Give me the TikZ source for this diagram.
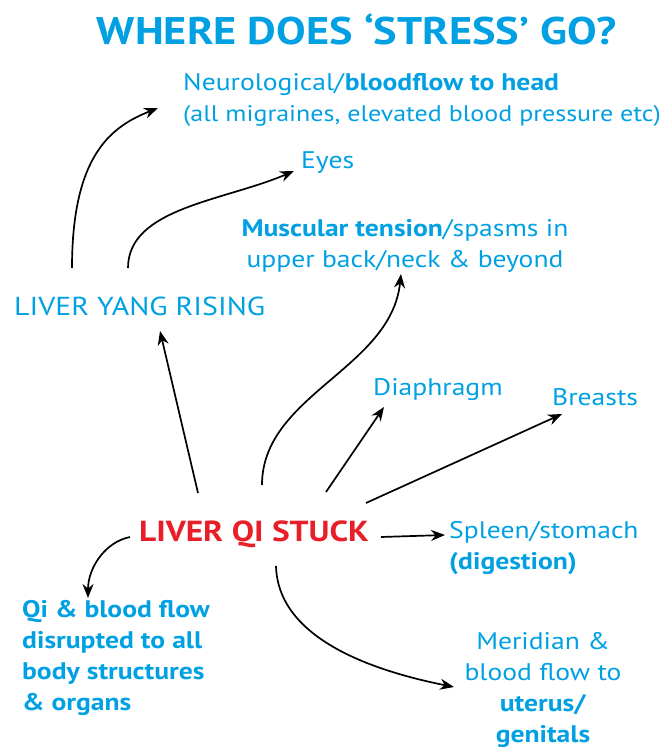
\documentclass[tikz,border=0pt]{standalone}
\usepackage{fontspec}
\setmainfont{PT Sans}[FakeStretch=1.15]
\usetikzlibrary{arrows.meta}
\definecolor{stressblue}{RGB}{0,160,227}
\definecolor{stuckred}{RGB}{232,30,40}
\begin{document}
\begin{tikzpicture}[
    x=1pt, y=-1pt,
    >={Stealth[length=14pt,width=11pt]},
    txt/.style={text=stressblue, inner sep=0pt, font=\fontsize{24}{31}\selectfont},
    txtB/.style={txt, font=\fontsize{24}{31}\selectfont\bfseries},
    hdr/.style={text=stressblue, inner sep=0pt, font=\fontsize{38.5}{44}\selectfont\bfseries},
    hot/.style={text=stuckred, inner sep=0pt, font=\fontsize{29}{32}\selectfont\bfseries},
    arr/.style={->, line width=1.7pt},
  ]
  \useasboundingbox (0,0) rectangle (668,749);

  %% ===== TITLE =====
  \node[hdr] (title) at (357,29) {WHERE DOES ‘STRESS’ GO?};

  %% ===== TARGETS (upper part) =====
  \node[txt, anchor=west, align=left] (neuro) at (183,100)
    {Neurological/\textbf{bloodflow to head}\\{\fontsize{22.6}{31}\selectfont(all migraines, elevated blood pressure etc)}};
  \node[txt, anchor=west] (eyes)   at (301,163) {Eyes};
  \node[txt, align=center] (muscle) at (405,246)
    {\textbf{Muscular tension}/spasms in\\upper back/neck \& beyond};
  \node[txt, anchor=west, font=\fontsize{26}{31}\selectfont] (yang) at (14,306) {LIVER YANG RISING};
  \node[txt, anchor=west] (diaph)   at (373,390) {Diaphragm};
  \node[txt, anchor=west] (breasts) at (552,397) {Breasts};

  %% ===== CENTRE =====
  \node[hot] (stuck) at (254,534) {LIVER QI STUCK};

  %% ===== TARGETS (lower part) =====
  \node[txt, anchor=west, align=left] (spleen) at (449,548)
    {Spleen/stomach\\\textbf{(digestion)}};
  \node[txtB, anchor=west, align=left] (qiflow) at (22,658)
    {Qi \& blood flow\\disrupted to all\\body structures\\\& organs};
  \node[txt, align=center] (meridian) at (543,690)
    {Meridian \&\\blood flow to\\\textbf{uterus/}\\\textbf{genitals}};

  %% ===== ARROWS =====
  %% from liver yang rising
  \draw[arr] ([xshift=58pt,yshift=38pt]yang.west)
    .. controls +(0,-115) and +(-45,18) .. ([xshift=-25pt,yshift=-8pt]neuro.west);
  \draw[arr] ([xshift=114pt,yshift=38pt]yang.west)
    .. controls +(0,-60) and +(-70,30) .. ([xshift=-7pt,yshift=-8pt]eyes.west);

  %% from liver qi stuck
  \draw[arr] ([xshift=-56pt,yshift=41pt]stuck.center) -- ([xshift=146pt,yshift=-25pt]yang.west);
  \draw[arr] ([xshift=8pt,yshift=49pt]stuck.center)
    .. controls +(0,-90) and +(-10,95) .. ([xshift=-4pt,yshift=-28pt]muscle.center);
  \draw[arr] ([xshift=72pt,yshift=42pt]stuck.center) -- ([xshift=11pt,yshift=-17pt]diaph.west);
  \draw[arr] ([xshift=112pt,yshift=31pt]stuck.center) -- ([xshift=10pt,yshift=-17pt]breasts.west);
  \draw[arr] ([xshift=127pt,yshift=-3pt]stuck.center) -- ([xshift=-4pt,yshift=13pt]spleen.west);
  \draw[arr] ([xshift=-124pt,yshift=-3pt]stuck.center)
    .. controls +(-25,5) and +(0,-30) .. ([xshift=66pt,yshift=60pt]qiflow.west);
  \draw[arr] ([xshift=22pt,yshift=-32pt]stuck.center)
    .. controls +(2,75) and +(-75,-15) .. ([xshift=-89pt,yshift=3pt]meridian.center);

\end{tikzpicture}
\end{document}
